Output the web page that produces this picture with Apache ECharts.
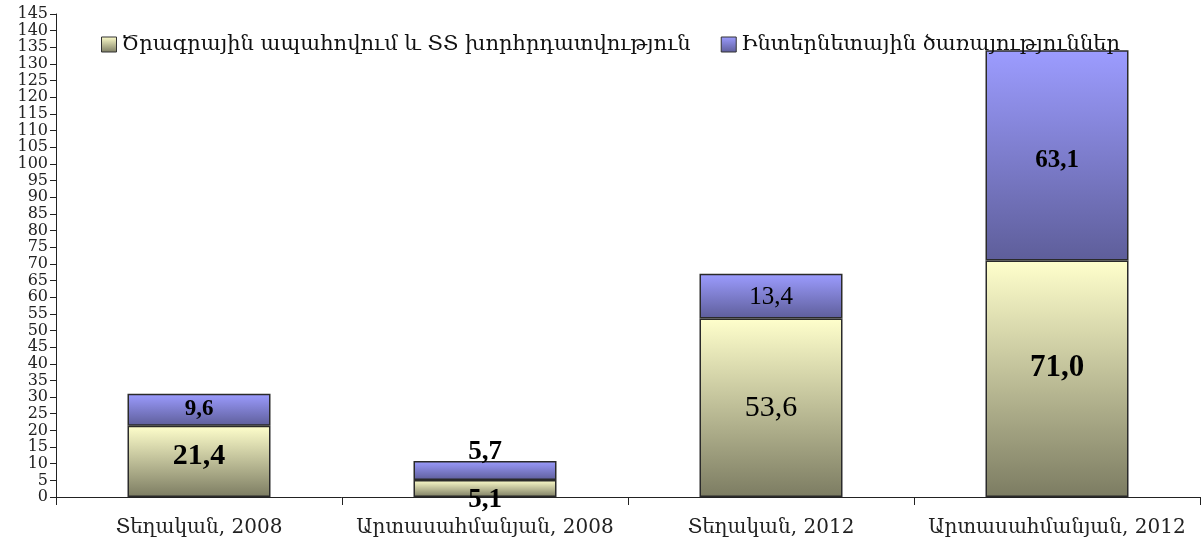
<!DOCTYPE html>
<html>
<head>
<meta charset="utf-8">
<script src="https://cdn.jsdelivr.net/npm/echarts@6/dist/echarts.min.js"></script>
<style>
  html, body { margin: 0; padding: 0; background: #fff; }
  #chart { width: 1203px; height: 548px; }
</style>
</head>
<body>
<div id="chart"></div>
<script>
// categories and series values
const categories = ['Տեղական, 2008', 'Արտասահմանյան, 2008', 'Տեղական, 2012', 'Արտասահմանյան, 2012']
const seriesNames = ['Ծրագրային ապահովում և ՏՏ խորհրդատվություն', 'Ինտերնետային ծառայություններ']
const softwareValues = [21.4, 5.1, 53.6, 71.0]
const internetValues = [9.6, 5.7, 13.4, 63.1]

const FONT = '"Liberation Serif", "DejaVu Serif", serif'
const FONT_ARM = '"DejaVu Serif", serif'

const chart = echarts.init(document.getElementById('chart'))

function fmt (v) {
  return v.toFixed(1).replace('.', ',')
}

// label style per bar (size / weight / nudges as in the picture)
const softwareLabels = [
  { fontSize: 30, fontWeight: 'bold', offset: [0, -5] },
  { fontSize: 27, fontWeight: 'bold', offset: [0, 12] },
  { fontSize: 30, fontWeight: 'normal', offset: [0, 0] },
  { fontSize: 31, fontWeight: 'bold', offset: [0, -11] }
]
const internetLabels = [
  { fontSize: 23, fontWeight: 'bold', offset: [0, -1] },
  { fontSize: 27, fontWeight: 'bold', position: 'top', distance: -5 },
  { fontSize: 25, fontWeight: 'normal', offset: [0, 1] },
  { fontSize: 25, fontWeight: 'bold', offset: [0, 5] }
]

const gradSoft = new echarts.graphic.LinearGradient(0, 0, 0, 1, [
  { offset: 0, color: '#FFFFCC' },
  { offset: 1, color: '#7C7C62' }
])
const gradNet = new echarts.graphic.LinearGradient(0, 0, 0, 1, [
  { offset: 0, color: '#9C9CFF' },
  { offset: 1, color: '#5E5E9A' }
])

const option = {
  backgroundColor: '#fff',
  animation: false,
  grid: { left: 56, right: 3, top: 14, bottom: 51 },
  legend: {
    top: 29,
    left: 96,
    itemGap: 30,
    itemWidth: 15,
    itemHeight: 15,
    icon: 'rect',
    itemStyle: { borderColor: '#333', borderWidth: 1 },
    textStyle: { fontFamily: FONT_ARM, fontSize: 21, color: '#111' },
    data: seriesNames
  },
  xAxis: {
    type: 'category',
    data: categories,
    axisLine: { lineStyle: { color: '#222', width: 1 } },
    axisTick: { show: true, length: 8, lineStyle: { color: '#222' } },
    axisLabel: { interval: 0, fontFamily: FONT_ARM, fontSize: 20, color: '#222', margin: 21 }
  },
  yAxis: {
    type: 'value',
    min: 0,
    max: 145,
    interval: 5,
    splitLine: { show: false },
    axisLine: { show: true, lineStyle: { color: '#222', width: 1 } },
    axisTick: { show: true, length: 6, lineStyle: { color: '#222' } },
    axisLabel: {
      showMinLabel: true,
      showMaxLabel: true,
      hideOverlap: false,
      fontFamily: FONT_ARM,
      fontSize: 16,
      lineHeight: 14,
      color: '#222',
      margin: 8
    }
  },
  series: [
    {
      name: seriesNames[0],
      type: 'bar',
      stack: 'total',
      barWidth: '50%',
      itemStyle: { color: gradSoft, borderColor: '#2a2a2a', borderWidth: 1.5 },
      data: softwareValues.map((v, i) => ({
        value: v,
        label: Object.assign({
          show: true,
          position: 'inside',
          fontFamily: FONT,
          color: '#000',
          formatter: p => fmt(p.value)
        }, softwareLabels[i])
      }))
    },
    {
      name: seriesNames[1],
      type: 'bar',
      stack: 'total',
      barWidth: '50%',
      itemStyle: { color: gradNet, borderColor: '#2a2a2a', borderWidth: 1.5 },
      data: internetValues.map((v, i) => ({
        value: v,
        label: Object.assign({
          show: true,
          position: 'inside',
          fontFamily: FONT,
          color: '#000',
          formatter: p => fmt(p.value)
        }, internetLabels[i])
      }))
    }
  ]
}

chart.setOption(option)
</script>
</body>
</html>
